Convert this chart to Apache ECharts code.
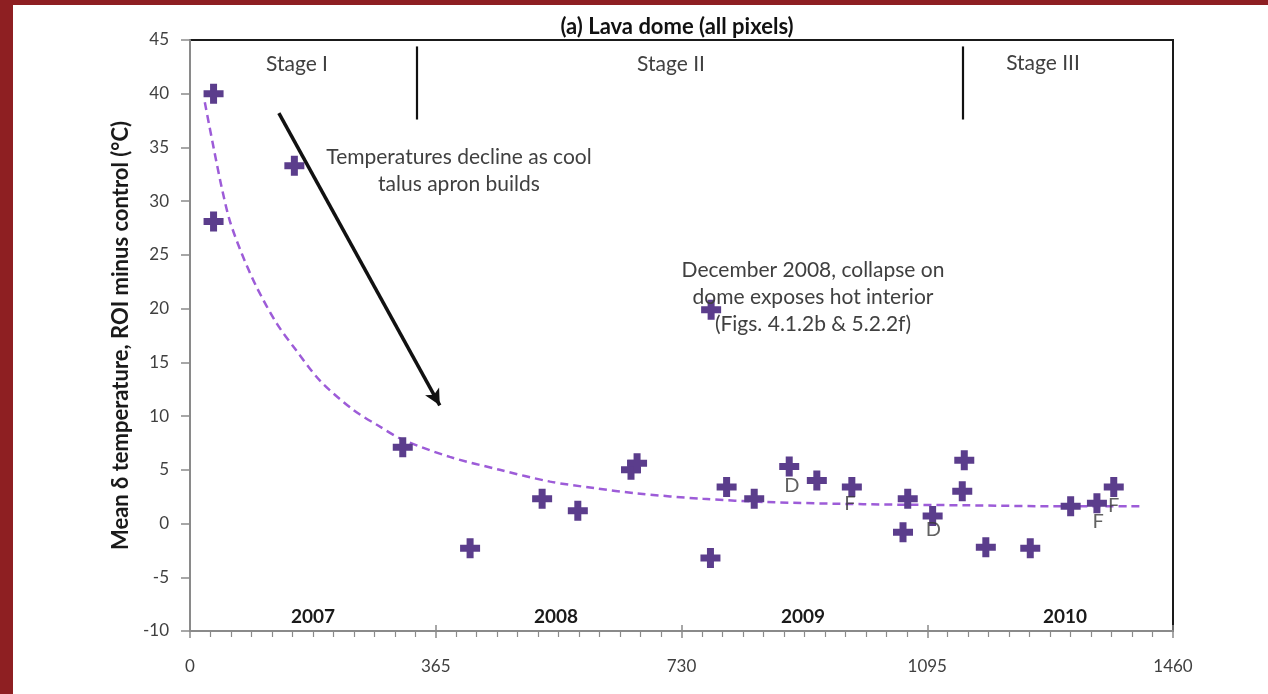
<!DOCTYPE html>
<html>
<head>
<meta charset="utf-8">
<script src="https://cdn.jsdelivr.net/npm/echarts@6/dist/echarts.min.js"></script>
<style>
html,body{margin:0;padding:0;background:#8e1f22;}
#wrap{position:absolute;left:13px;top:5px;width:1255px;height:689px;background:#fff;}
#chart{position:absolute;left:0;top:0;width:1268px;height:694px;}
</style>
</head>
<body>
<div id="wrap"></div>
<div id="chart"></div>
<script>
// Observations: [day, mean delta temperature (°C)]
const obsDays = [35, 35, 155, 316, 416, 523, 576, 655, 664, 774, 773, 797, 838, 890, 931, 983, 1059, 1066, 1103, 1150, 1147, 1182, 1248, 1308, 1347, 1372];
const obsVals = [40.0, 28.1, 33.3, 7.1, -2.3, 2.3, 1.2, 5.0, 5.6, 19.9, -3.2, 3.4, 2.3, 5.3, 4.0, 3.4, -0.8, 2.3, 0.7, 5.9, 3.0, -2.2, -2.3, 1.6, 1.9, 3.4];

// Fitted decay trend
const trendDays = [22, 35, 47, 59, 77, 99, 129, 158, 193, 242, 280, 316, 386, 460, 535, 600, 664, 762, 857, 1000, 1150, 1300, 1411];
const trendVals = [39.2, 35.0, 31.3, 28.2, 25.1, 22.0, 18.6, 16.1, 13.3, 10.6, 9.1, 7.8, 6.2, 5.0, 3.9, 3.3, 2.8, 2.3, 2.0, 1.8, 1.7, 1.6, 1.6];

// Point letter flags
const flagDays = [894, 980, 1104, 1349, 1372];
const flagVals = [3.5, 1.9, -0.6, 0.2, 1.7];
const flagText = ['D', 'F', 'D', 'F', 'F'];

// Axes
const xTicks = [0, 365, 730, 1095, 1460];
const yMin = -10, yMax = 45, yStep = 5;

// Stage boundaries (day) and their vertical extent (°C)
const stageBounds = [337, 1147];
const stageLineFrom = 44.4, stageLineTo = 37.6;

// Arrow: [day, value] start and end
const arrowStart = [132, 38.2];
const arrowEnd = [371, 11.0];

const FONT = 'Lato, "Liberation Sans", sans-serif';
const TXT = '#404040';

const chart = echarts.init(document.getElementById('chart'), null, {renderer: 'canvas'});

const obsData = obsDays.map((d, i) => [d, obsVals[i]]);
const trendData = trendDays.map((d, i) => [d, trendVals[i]]);
const flagData = flagDays.map((d, i) => ({value: [flagDays[i], flagVals[i]], label: {formatter: flagText[i]}}));

const plus = 'path://M6.5,0 h7 v6.5 h6.5 v7 h-6.5 v6.5 h-7 v-6.5 h-6.5 v-7 h6.5 z';

function txt(text, x, y, font, fill) {
  return {type: 'text', x: x, y: y, z: 50,
    style: {text: text, font: font, fill: fill || TXT, textAlign: 'center', textVerticalAlign: 'middle', lineHeight: 27}};
}

chart.setOption({
  backgroundColor: 'transparent',
  animation: false,
  grid: {left: 190, right: 95, top: 40, bottom: 63, show: true, borderColor: '#1a1a1a', borderWidth: 2, backgroundColor: '#fff'},
  xAxis: [{
    type: 'value', min: 0, max: 1460, interval: 365,
    axisLine: {show: true, onZero: false, lineStyle: {color: '#8a8a8a', width: 2}},
    axisTick: {show: true, inside: false, length: 7, lineStyle: {color: '#8a8a8a', width: 1.5}},
    minorTick: {show: true, splitNumber: 12, length: 6, lineStyle: {color: '#8a8a8a', width: 1.2}},
    axisLabel: {margin: 27, fontFamily: FONT, fontSize: 17, color: TXT,
      formatter: v => xTicks.indexOf(v) >= 0 ? String(v) : ''},
    splitLine: {show: false}
  }, {
    type: 'value', min: 0, max: 1460, interval: 365, position: 'bottom',
    axisLine: {show: false, onZero: false},
    axisTick: {show: true, inside: true, length: 6, lineStyle: {color: '#8a8a8a', width: 1.5}},
    axisLabel: {show: false}, splitLine: {show: false}
  }],
  yAxis: {
    type: 'value', min: yMin, max: yMax, interval: yStep,
    name: 'Mean δ temperature, ROI minus control (°C)',
    nameLocation: 'middle', nameGap: 44, nameRotate: 90,
    nameTextStyle: {fontFamily: FONT, fontWeight: 'bold', fontSize: 22, color: '#1a1a1a'},
    axisLine: {show: true, onZero: false, lineStyle: {color: '#8a8a8a', width: 2}},
    axisTick: {show: true, inside: false, length: 9, lineStyle: {color: '#8a8a8a', width: 1.5}},
    axisLabel: {margin: 21, fontFamily: FONT, fontSize: 17, color: TXT},
    splitLine: {show: false}
  },
  series: [{
    name: 'trend', type: 'line', data: trendData, smooth: 0.3, symbol: 'none', z: 2,
    lineStyle: {color: '#9d5cd8', width: 2.5, type: [8, 5]},
    markLine: {
      silent: true, symbol: ['none', 'none'], label: {show: false},
      lineStyle: {color: '#111', width: 2.2, type: 'solid'},
      data: stageBounds.map(d => [{coord: [d, stageLineFrom]}, {coord: [d, stageLineTo]}]).concat([
        [{coord: arrowStart, symbol: 'none'}, {coord: arrowEnd, symbol: 'arrow', symbolSize: [12, 16], lineStyle: {width: 3.5, color: '#111'}}]
      ])
    }
  }, {
    name: 'obs', type: 'scatter', data: obsData, symbol: plus, symbolSize: 20, z: 3,
    itemStyle: {color: '#5b3d8c', opacity: 1}
  }, {
    name: 'flags', type: 'scatter', data: flagData, symbol: 'circle', symbolSize: 2, z: 4,
    itemStyle: {color: 'rgba(0,0,0,0)'},
    label: {show: true, position: 'inside', fontFamily: FONT, fontSize: 20, color: '#3a3a3a'}
  }],
  graphic: [
    txt('(a) Lava dome (all pixels)', 677, 27, 'bold 22px ' + FONT, '#111'),
    txt('Stage I', 297, 64, '21px ' + FONT),
    txt('Stage II', 671, 64, '21px ' + FONT),
    txt('Stage III', 1043, 63, '21px ' + FONT),
    txt('Temperatures decline as cool\ntalus apron builds', 459, 171, '21px ' + FONT),
    txt('December 2008, collapse on\ndome exposes hot interior\n(Figs. 4.1.2b & 5.2.2f)', 813, 297, '21px ' + FONT),
    txt('2007', 313, 617, 'bold 19px ' + FONT, '#1a1a1a'),
    txt('2008', 556, 617, 'bold 19px ' + FONT, '#1a1a1a'),
    txt('2009', 803, 617, 'bold 19px ' + FONT, '#1a1a1a'),
    txt('2010', 1065, 617, 'bold 19px ' + FONT, '#1a1a1a')
  ]
});
</script>
</body>
</html>
